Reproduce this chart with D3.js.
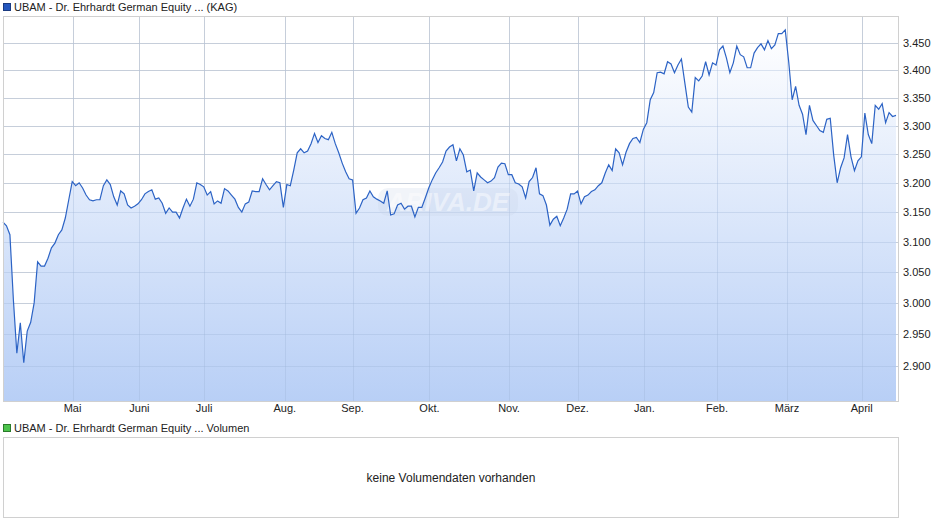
<!DOCTYPE html>
<html>
<head>
<meta charset="utf-8">
<script src="https://cdn.jsdelivr.net/npm/d3@7"></script>
<style>
  body { margin: 0; background: #fff; }
  svg { font-family: "Liberation Sans", Arial, sans-serif; }
</style>
</head>
<body>
<svg id="chart" width="940" height="526"></svg>
<script>
// closing prices, one per trading day
var prices = [
  3.133,3.127,3.112,3.005,2.920,2.968,2.905,2.955,2.969,3.000,3.067,3.060,3.060,3.073,3.090,3.098,3.112,3.120,3.140,3.171,3.202,
  3.195,3.200,3.191,3.179,3.171,3.169,3.171,3.171,3.195,3.205,3.197,3.176,3.162,3.186,3.181,3.162,3.157,3.160,3.164,3.171,3.181,
  3.185,3.188,3.172,3.174,3.165,3.148,3.157,3.150,3.150,3.140,3.157,3.172,3.160,3.172,3.200,3.197,3.193,3.179,3.185,3.164,3.169,
  3.165,3.190,3.186,3.179,3.172,3.158,3.150,3.164,3.167,3.186,3.185,3.185,3.207,3.197,3.188,3.195,3.202,3.200,3.158,3.197,3.195,
  3.222,3.252,
  3.259,3.252,3.255,3.268,3.286,3.270,3.282,3.277,3.275,3.288,3.268,3.252,3.234,3.219,3.207,3.205,3.148,3.157,3.171,3.174,3.186,
  3.176,3.172,3.169,3.165,3.186,3.145,3.147,3.162,3.165,3.155,3.160,3.160,3.142,3.158,3.158,3.174,3.191,3.205,3.217,3.226,3.236,
  3.255,
  3.262,3.266,3.238,3.259,3.248,3.219,3.222,3.186,3.217,3.210,3.205,3.200,3.203,3.209,3.227,3.234,3.233,3.214,3.214,3.200,3.198,
  3.193,3.174,3.202,3.209,3.226,3.181,3.178,3.162,3.128,3.138,3.143,3.127,3.140,3.155,3.181,3.181,3.186,3.164,3.176,3.179,3.185,
  3.188,3.195,3.200,
  3.217,3.231,3.221,3.259,3.252,3.231,3.253,3.268,3.277,3.279,3.270,3.293,3.305,3.346,3.359,3.395,3.396,3.393,3.415,3.411,3.395,
  3.409,3.420,3.376,3.333,3.324,3.386,3.380,3.389,3.415,3.391,3.413,3.409,3.437,3.444,3.422,3.395,3.413,3.444,3.428,3.424,3.404,
  3.404,
  3.431,3.441,3.448,3.437,3.454,3.439,3.446,3.467,3.467,3.474,3.415,3.346,3.370,3.336,3.320,3.284,3.336,3.309,3.300,3.291,3.288,
  3.311,3.313,3.248,3.200,3.226,3.243,3.284,3.245,3.221,3.238,3.245,3.322,3.284,3.268,3.336,3.329,3.339,3.305,3.323,3.316,3.318
];

// month labels and the trading-day index where each month starts
var monthLabels = ["Mai", "Juni", "Juli", "Aug.", "Sep.", "Okt.", "Nov.", "Dez.", "Jan.", "Feb.", "März", "April"];
var monthIndex = [20.1, 39.4, 58.1, 81.4, 101, 123.2, 146.2, 166, 185.3, 206.3, 226.5, 248.1];

var yTicks = [2.9, 2.95, 3.0, 3.05, 3.1, 3.15, 3.2, 3.25, 3.3, 3.35, 3.4, 3.45];

var svg = d3.select("#chart");
var pL = 3, pR = 898, pT = 16, pB = 401;

var x = d3.scaleLinear().domain([0, prices.length - 1]).range([pL, 896]);
var y = d3.scaleLog().domain([2.846, 3.5]).range([pB, pT]);

var fmt = function(d) { return d.toFixed(3); };
var px = function(v) { return Math.round(v) + 0.5; };

// gradient for area
var defs = svg.append("defs");
var grad = defs.append("linearGradient").attr("id", "fill")
  .attr("gradientUnits", "userSpaceOnUse")
  .attr("x1", 0).attr("x2", 0)
  .attr("y1", y(d3.max(prices))).attr("y2", pB);
grad.append("stop").attr("offset", "0%").attr("stop-color", "#ffffff");
grad.append("stop").attr("offset", "100%").attr("stop-color", "#b8cff6");

// legend top
svg.append("rect").attr("x", 3.5).attr("y", 3.5).attr("width", 7).attr("height", 7)
  .attr("fill", "#2457be").attr("stroke", "#1a3a80");
svg.append("text").attr("x", 14).attr("y", 11).attr("font-size", 11).attr("fill", "#222")
  .text("UBAM - Dr. Ehrhardt German Equity ... (KAG)");

function grid(color, op) {
  var g = svg.append("g").attr("stroke", color).attr("stroke-opacity", op);
  g.selectAll(".h").data(yTicks).join("line").attr("class", "h")
    .attr("x1", pL).attr("x2", pR)
    .attr("y1", function(d) { return px(y(d)); })
    .attr("y2", function(d) { return px(y(d)); });
  g.selectAll(".v").data(monthIndex).join("line").attr("class", "v")
    .attr("x1", function(d) { return px(x(d)); })
    .attr("x2", function(d) { return px(x(d)); })
    .attr("y1", pT).attr("y2", pB);
}
grid("#dcdcdc", 1);

var area = d3.area()
  .x(function(d, i) { return x(i); })
  .y0(pB)
  .y1(function(d) { return y(d); });
var line = d3.line()
  .x(function(d, i) { return x(i); })
  .y(function(d) { return y(d); });

svg.append("path").datum(prices).attr("d", area).attr("fill", "url(#fill)");

// grid shows through the fill
grid("#9fb4d8", 0.35);

// watermark
svg.append("rect").attr("x", 378).attr("y", 188).attr("width", 140).attr("height", 28).attr("rx", 10)
  .attr("fill", "#c8d4e6").attr("opacity", 0.25);
svg.append("text").attr("x", 448).attr("y", 211).attr("text-anchor", "middle")
  .attr("font-size", 26).attr("font-style", "italic").attr("font-weight", "bold")
  .attr("fill", "#ffffff").attr("opacity", 0.45).text("ARIVA.DE");

svg.append("path").datum(prices).attr("d", line)
  .attr("fill", "none").attr("stroke", "#2c63c5").attr("stroke-width", 1.2);

// frame
svg.append("rect").attr("x", pL + 0.5).attr("y", pT + 0.5)
  .attr("width", pR - pL).attr("height", pB - pT)
  .attr("fill", "none").attr("stroke", "#d0d0d0");

// y axis labels (right)
svg.append("g").selectAll("text").data(yTicks).join("text")
  .attr("x", 903).attr("y", function(d) { return y(d) + 4; })
  .attr("font-size", 11).attr("fill", "#222")
  .text(fmt);

// x axis labels
svg.append("g").selectAll("text").data(monthIndex).join("text")
  .attr("x", function(d) { return x(d); }).attr("y", 412)
  .attr("text-anchor", "middle").attr("font-size", 11).attr("fill", "#222")
  .text(function(d, i) { return monthLabels[i]; });

// volume panel
svg.append("rect").attr("x", 3.5).attr("y", 424.5).attr("width", 7).attr("height", 7)
  .attr("fill", "#4cc34c").attr("stroke", "#2a7a2a");
svg.append("text").attr("x", 14).attr("y", 432).attr("font-size", 11).attr("fill", "#222")
  .text("UBAM - Dr. Ehrhardt German Equity ... Volumen");
svg.append("rect").attr("x", 3.5).attr("y", 437.5).attr("width", pR - pL).attr("height", 80)
  .attr("fill", "none").attr("stroke", "#d0d0d0");
svg.append("text").attr("x", 451).attr("y", 482).attr("text-anchor", "middle")
  .attr("font-size", 12).attr("fill", "#222").text("keine Volumendaten vorhanden");
</script>
</body>
</html>
